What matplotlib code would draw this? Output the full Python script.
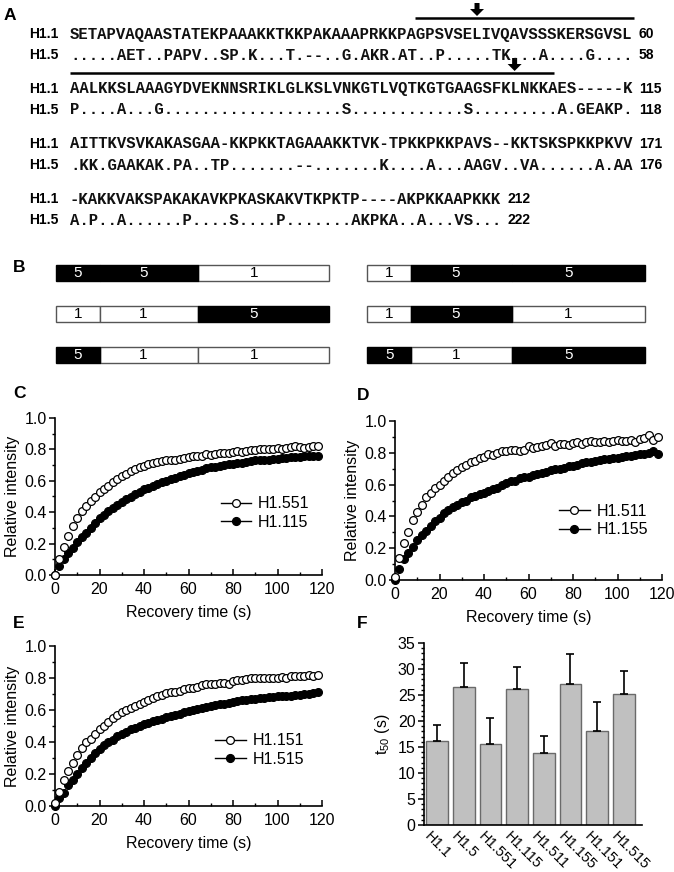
import matplotlib
matplotlib.use("Agg")
import matplotlib.pyplot as plt
import numpy as np
from matplotlib.lines import Line2D
from matplotlib.patches import Rectangle, Polygon
from matplotlib.ticker import MultipleLocator

plt.rcParams['font.family'] = ['Liberation Sans', 'DejaVu Sans']
plt.rcParams['mathtext.fontset'] = 'custom'
plt.rcParams['mathtext.rm'] = 'Liberation Sans'

# ---- panel A: alignment rows (name, sequence, end number)
seq_rows = [
    ("H1.1", "SETAPVAQAASTATEKPAAAKKTKKPAKAAAPRKKPAGPSVSELIVQAVSSSKERSGVSL", "60"),
    ("H1.5", ".....AET..PAPV..SP.K...T.--..G.AKR.AT..P.....TK...A....G....", "58"),
    ("H1.1", "AALKKSLAAAGYDVEKNNSRIKLGLKSLVNKGTLVQTKGTGAAGSFKLNKKAES-----K", "115"),
    ("H1.5", "P....A...G...................S............S.........A.GEAKP.", "118"),
    ("H1.1", "AITTKVSVKAKASGAA-KKPKKTAGAAAKKTVK-TPKKPKKPAVS--KKTSKSPKKPKVV", "171"),
    ("H1.5", ".KK.GAAKAK.PA..TP.......--.......K....A...AAGV..VA......A.AA", "176"),
    ("H1.1", "-KAKKVAKSPAKAKAVKPKASKAKVTKPKTP----AKPKKAAPKKK", "212"),
    ("H1.5", "A.P..A......P....S....P.......AKPKA..A...VS...", "222"),
]
# marked regions (start char, end char, arrow char, row the bar sits above)
marked = [(36.7, 60.0, 43.3, 0), (0.0, 51.5, 47.3, 2)]

# ---- panel B: chimera constructs (domain origin: N, globular, C)
constructs_left = ["551", "115", "511"]
constructs_right = ["155", "151", "515"]
domain_edges = [0.0, 0.16, 0.52, 1.0]
label_pos = [0.08, 0.32, 0.725]

# ---- panels C-E: FRAP recovery curves
time_s = np.arange(0, 120, 2)
h1_551 = [0.00, 0.10, 0.18, 0.25, 0.31, 0.36, 0.41, 0.44, 0.47, 0.50,
          0.53, 0.55, 0.57, 0.59, 0.61, 0.63, 0.645, 0.66, 0.675, 0.685,
          0.695, 0.705, 0.715, 0.72, 0.725, 0.73, 0.735, 0.735, 0.74, 0.745,
          0.75, 0.755, 0.755, 0.76, 0.77, 0.765, 0.77, 0.775, 0.78, 0.775,
          0.785, 0.79, 0.785, 0.79, 0.795, 0.795, 0.80, 0.80, 0.805, 0.805,
          0.81, 0.80, 0.81, 0.815, 0.82, 0.815, 0.81, 0.815, 0.82, 0.82]
h1_115 = [0.00, 0.06, 0.10, 0.14, 0.17, 0.21, 0.24, 0.27, 0.30, 0.33,
          0.36, 0.38, 0.405, 0.425, 0.445, 0.465, 0.485, 0.50, 0.515, 0.53,
          0.545, 0.555, 0.57, 0.58, 0.59, 0.60, 0.61, 0.62, 0.63, 0.64,
          0.65, 0.655, 0.665, 0.67, 0.68, 0.685, 0.69, 0.695, 0.70, 0.705,
          0.71, 0.715, 0.715, 0.72, 0.725, 0.73, 0.73, 0.735, 0.735, 0.74,
          0.74, 0.745, 0.745, 0.75, 0.75, 0.75, 0.755, 0.755, 0.76, 0.76]
h1_511 = [0.02, 0.14, 0.23, 0.30, 0.38, 0.43, 0.47, 0.52, 0.55, 0.58,
          0.60, 0.62, 0.645, 0.67, 0.69, 0.71, 0.725, 0.74, 0.75, 0.765,
          0.775, 0.79, 0.785, 0.80, 0.81, 0.81, 0.815, 0.815, 0.81, 0.82,
          0.84, 0.83, 0.835, 0.845, 0.85, 0.86, 0.845, 0.855, 0.855, 0.85,
          0.86, 0.865, 0.855, 0.87, 0.875, 0.865, 0.87, 0.875, 0.865, 0.875,
          0.88, 0.875, 0.875, 0.88, 0.87, 0.885, 0.89, 0.91, 0.88, 0.90]
h1_155 = [0.00, 0.07, 0.13, 0.17, 0.21, 0.25, 0.28, 0.31, 0.34, 0.37,
          0.39, 0.42, 0.44, 0.46, 0.47, 0.49, 0.50, 0.52, 0.53, 0.54,
          0.55, 0.56, 0.575, 0.58, 0.60, 0.61, 0.62, 0.625, 0.64, 0.645,
          0.65, 0.66, 0.665, 0.675, 0.68, 0.69, 0.695, 0.70, 0.705, 0.715,
          0.72, 0.725, 0.735, 0.74, 0.745, 0.75, 0.755, 0.76, 0.76, 0.765,
          0.77, 0.775, 0.78, 0.78, 0.785, 0.79, 0.79, 0.80, 0.81, 0.795]
h1_151 = [0.02, 0.09, 0.16, 0.22, 0.27, 0.32, 0.36, 0.40, 0.42, 0.45,
          0.48, 0.50, 0.525, 0.55, 0.57, 0.585, 0.60, 0.61, 0.625, 0.635,
          0.65, 0.665, 0.675, 0.685, 0.695, 0.705, 0.71, 0.715, 0.72, 0.73,
          0.735, 0.74, 0.745, 0.755, 0.76, 0.76, 0.765, 0.77, 0.77, 0.765,
          0.78, 0.785, 0.79, 0.795, 0.80, 0.80, 0.80, 0.80, 0.80, 0.80,
          0.80, 0.805, 0.80, 0.81, 0.815, 0.81, 0.815, 0.82, 0.815, 0.82]
h1_515 = [0.00, 0.05, 0.08, 0.13, 0.16, 0.20, 0.24, 0.27, 0.30, 0.33,
          0.355, 0.38, 0.40, 0.415, 0.435, 0.45, 0.465, 0.48, 0.49, 0.50,
          0.51, 0.52, 0.53, 0.535, 0.545, 0.555, 0.56, 0.57, 0.575, 0.585,
          0.595, 0.60, 0.605, 0.615, 0.62, 0.625, 0.63, 0.635, 0.64, 0.645,
          0.65, 0.655, 0.66, 0.665, 0.67, 0.67, 0.675, 0.675, 0.68, 0.68,
          0.685, 0.69, 0.69, 0.69, 0.695, 0.695, 0.70, 0.70, 0.705, 0.71]

# ---- panel F: t50 bars
bar_names = ["H1.1", "H1.5", "H1.551", "H1.115", "H1.511", "H1.155", "H1.151", "H1.515"]
t50 = [16.2, 26.5, 15.6, 26.2, 13.9, 27.2, 18.0, 25.2]
t50_err = [3.0, 4.7, 4.9, 4.1, 3.3, 5.7, 5.7, 4.5]

W, H = 674, 872
fig = plt.figure(figsize=(W / 100, H / 100), dpi=100)

# overlay in pixel coordinates for panels A and B
ov = fig.add_axes([0, 0, 1, 1])
ov.set_xlim(0, W)
ov.set_ylim(H, 0)
ov.axis("off")

for letter, x, y in [("A", 4, 15), ("B", 13, 267), ("C", 13, 393), ("D", 357, 395),
                     ("E", 13, 623), ("F", 357, 623)]:
    ov.text(x, y, letter, fontsize=12.5, fontweight="bold", ha="left", va="center")

seq_x0 = 70
pitch = 9.4
row_y = [34, 55, 89, 110, 144, 165, 199, 220]
for (name, seq, num), y in zip(seq_rows, row_y):
    ov.text(29, y, name, fontsize=10, fontweight="bold", ha="left", va="center")
    ov.text(seq_x0, y, seq, family="Liberation Mono", fontweight="bold",
            fontsize=pitch / 0.6 * 0.72, ha="left", va="center", color="#111111")
    ov.text(seq_x0 + (len(seq) + 0.5) * pitch, y, num, fontsize=10, fontweight="bold",
            ha="left", va="center")

for start, end, arrow_at, row in marked:
    ly = row_y[row] - 16
    ov.plot([seq_x0 + start * pitch, seq_x0 + end * pitch], [ly, ly], color="black", lw=1.8,
            solid_capstyle="butt")
    ax_ = seq_x0 + arrow_at * pitch
    tip = ly - 2
    ov.add_patch(Polygon([(ax_ - 2.5, tip - 13), (ax_ + 2.5, tip - 13), (ax_ + 2.5, tip - 7),
                          (ax_ + 7, tip - 7), (ax_, tip), (ax_ - 7, tip - 7), (ax_ - 2.5, tip - 7)],
                         closed=True, color="black", lw=0))

bar_rows_y = [273, 314, 355]
bar_h = 16


def draw_construct(code, x0, x1, yc):
    for i, ch in enumerate(code):
        a = x0 + domain_edges[i] * (x1 - x0)
        b = x0 + domain_edges[i + 1] * (x1 - x0)
        black = ch == "5"
        ov.add_patch(Rectangle((a, yc - bar_h / 2), b - a, bar_h,
                               facecolor="black" if black else "white",
                               edgecolor="black" if black else "#555555", lw=1.0,
                               zorder=3 if black else 2))
        ov.text(x0 + label_pos[i] * (x1 - x0), yc, ch, fontsize=11, ha="center", va="center",
                color="white" if black else "black", zorder=4)


for code, y in zip(constructs_left, bar_rows_y):
    draw_construct(code, 56, 329, y)
for code, y in zip(constructs_right, bar_rows_y):
    draw_construct(code, 367, 645, y)


def frac(x0, y_bottom, x1, y_top):
    return [x0 / W, 1 - y_bottom / H, (x1 - x0) / W, (y_bottom - y_top) / H]


def frap_axes(rect, open_y, filled_y, open_lab, filled_lab, leg_xy):
    ax = fig.add_axes(rect)
    ax.plot(time_s, open_y, "o", ms=5.6, mfc="white", mec="black", mew=0.9, zorder=3)
    ax.plot(time_s, filled_y, "o", ms=5.6, mfc="black", mec="black", mew=0.9, zorder=2)
    ax.set_xlim(0, 120)
    ax.set_ylim(0, 1.0)
    ax.xaxis.set_major_locator(MultipleLocator(20))
    ax.xaxis.set_minor_locator(MultipleLocator(10))
    ax.yaxis.set_major_locator(MultipleLocator(0.2))
    ax.yaxis.set_minor_locator(MultipleLocator(0.1))
    ax.yaxis.set_major_formatter(matplotlib.ticker.FormatStrFormatter("%.1f"))
    for s in ("top", "right"):
        ax.spines[s].set_visible(False)
    for s in ("left", "bottom"):
        ax.spines[s].set_linewidth(1.2)
    ax.tick_params(axis="x", which="both", direction="in", labelsize=11.5, pad=5)
    ax.tick_params(axis="y", which="both", direction="out", labelsize=11.5, pad=2)
    ax.tick_params(which="major", length=4, width=1.1)
    ax.tick_params(which="minor", length=2.5, width=1.0)
    ax.set_ylabel("Relative intensity", fontsize=11.5, labelpad=3)
    ax.set_xlabel("Recovery time (s)", fontsize=11.5, labelpad=6)
    for ln in ax.lines:
        ln.set_clip_on(False)
    handles = [Line2D([], [], color="black", lw=1.0, marker="o", ms=5.6, mfc="white", mec="black", mew=0.9),
               Line2D([], [], color="black", lw=1.0, marker="o", ms=5.6, mfc="black", mec="black")]
    ax.legend(handles, [open_lab, filled_lab], loc="upper left", bbox_to_anchor=leg_xy,
              frameon=False, fontsize=11.5, handlelength=1.9, handletextpad=0.45,
              labelspacing=0.22, borderpad=0, borderaxespad=0)
    return ax


frap_axes(frac(55, 575, 322, 418), h1_551, h1_115, "H1.551", "H1.115", (0.62, 0.50))
frap_axes(frac(395, 580, 662, 421), h1_511, h1_155, "H1.511", "H1.155", (0.615, 0.48))
frap_axes(frac(55, 806, 322, 646), h1_151, h1_515, "H1.151", "H1.515", (0.60, 0.455))

axf = fig.add_axes(frac(424, 825, 642, 643))
xpos = np.arange(1, len(bar_names) + 1)
axf.bar(xpos, t50, width=0.81, color="#c0c0c0", edgecolor="#6a6a6a", lw=1.0, zorder=2)
axf.errorbar(xpos, t50, yerr=[np.zeros(len(t50)), t50_err], fmt="none", ecolor="black",
             elinewidth=1.2, capsize=3, capthick=1.2, zorder=3)
axf.set_xlim(0.51, 8.68)
axf.set_ylim(0, 35)
axf.yaxis.set_major_locator(MultipleLocator(5))
axf.yaxis.set_minor_locator(MultipleLocator(1))
axf.set_xticks(xpos - 0.2)
axf.set_xticklabels(bar_names, rotation=-45, ha="left", va="top", rotation_mode="anchor",
                    fontsize=10.5)
for s in ("top", "right"):
    axf.spines[s].set_visible(False)
for s in ("left", "bottom"):
    axf.spines[s].set_linewidth(1.2)
axf.tick_params(axis="x", which="both", length=0, pad=3)
axf.tick_params(axis="y", which="major", direction="out", length=4, width=1.1, labelsize=11.5, pad=2)
axf.tick_params(axis="y", which="minor", direction="out", length=2.5, width=1.0)
axf.set_ylabel(r"$\mathregular{t_{50}}$ (s)", fontsize=11.5, labelpad=4)

fig.savefig("out.png", dpi=100)
